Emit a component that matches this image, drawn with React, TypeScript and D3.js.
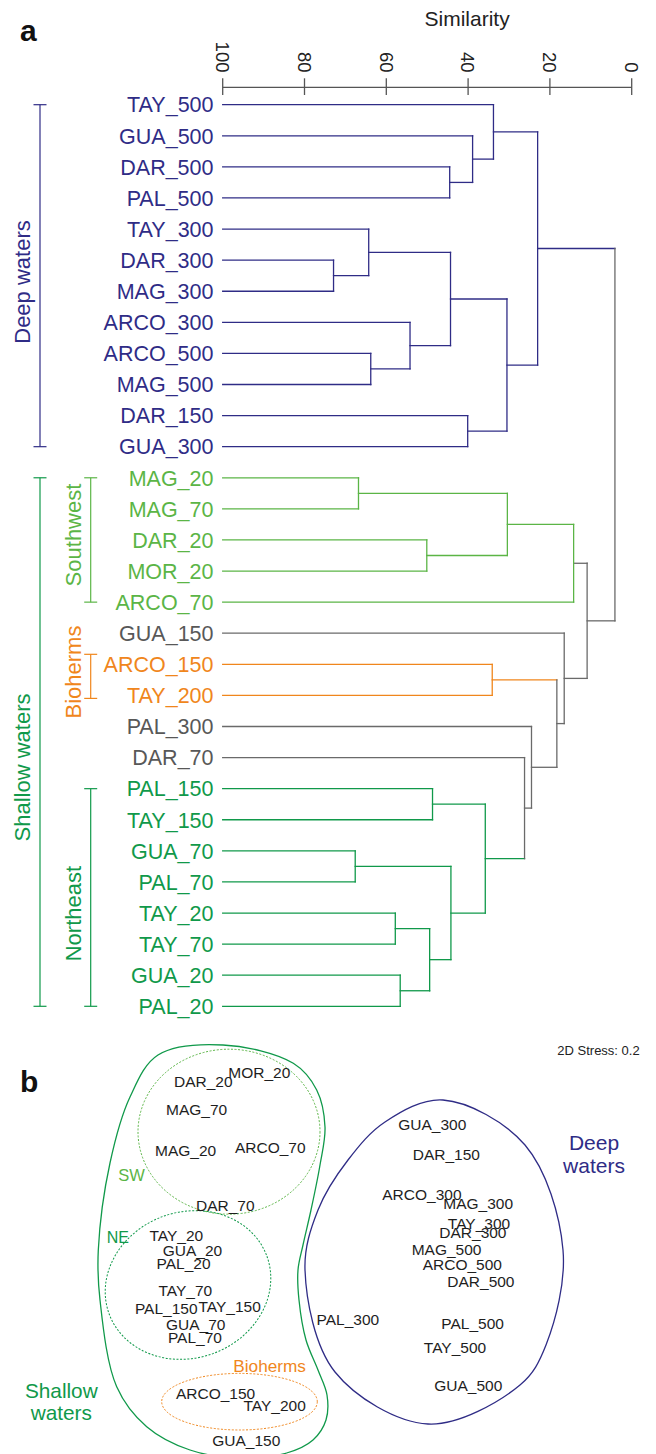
import React from "react";
import * as d3 from "d3";

const FONT = "'Liberation Sans', Arial, Helvetica, sans-serif";

// ---------- Panel a: dendrogram data ----------
const leafNames = [
  "TAY_500", "GUA_500", "DAR_500", "PAL_500", "TAY_300", "DAR_300", "MAG_300",
  "ARCO_300", "ARCO_500", "MAG_500", "DAR_150", "GUA_300",
  "MAG_20", "MAG_70", "DAR_20", "MOR_20", "ARCO_70",
  "GUA_150", "ARCO_150", "TAY_200", "PAL_300", "DAR_70",
  "PAL_150", "TAY_150", "GUA_70", "PAL_70", "TAY_20", "TAY_70", "GUA_20", "PAL_20",
];
const leafGroups = [
  "deep", "deep", "deep", "deep", "deep", "deep", "deep", "deep", "deep", "deep", "deep", "deep",
  "sw", "sw", "sw", "sw", "sw",
  "gray", "bio", "bio", "gray", "gray",
  "ne", "ne", "ne", "ne", "ne", "ne", "ne", "ne",
];
// merges: [id, childA, childB, similarity, group, linkGroup]
const merges: [string, string, string, number, string, string?][] = [
  ["d3", "DAR_500", "PAL_500", 44.5, "deep"],
  ["d2", "GUA_500", "d3", 38.9, "deep"],
  ["d1", "TAY_500", "d2", 33.8, "deep"],
  ["d7", "DAR_300", "MAG_300", 72.9, "deep"],
  ["d6", "TAY_300", "d7", 64.3, "deep"],
  ["d9", "ARCO_500", "MAG_500", 63.8, "deep"],
  ["d8", "ARCO_300", "d9", 54.2, "deep"],
  ["d5", "d6", "d8", 44.3, "deep"],
  ["d10", "DAR_150", "GUA_300", 40.1, "deep"],
  ["d4", "d5", "d10", 30.5, "deep"],
  ["deep", "d1", "d4", 23.0, "deep"],
  ["s2", "MAG_20", "MAG_70", 66.8, "sw"],
  ["s3", "DAR_20", "MOR_20", 50.1, "sw"],
  ["s1", "s2", "s3", 30.4, "sw"],
  ["sw", "s1", "ARCO_70", 14.2, "sw", "gray"],
  ["bio", "ARCO_150", "TAY_200", 34.1, "bio"],
  ["n1", "PAL_150", "TAY_150", 48.7, "ne"],
  ["n3", "GUA_70", "PAL_70", 67.6, "ne"],
  ["n5", "TAY_20", "TAY_70", 57.8, "ne"],
  ["n6", "GUA_20", "PAL_20", 56.6, "ne"],
  ["n4", "n5", "n6", 49.4, "ne"],
  ["n2", "n3", "n4", 44.2, "ne"],
  ["ne", "n1", "n2", 35.8, "ne"],
  ["w", "DAR_70", "ne", 26.2, "gray"],
  ["z", "PAL_300", "w", 24.5, "gray"],
  ["y", "bio", "z", 18.3, "gray"],
  ["x", "GUA_150", "y", 16.5, "gray"],
  ["shallow", "sw", "x", 10.9, "gray"],
  ["root", "deep", "shallow", 4.1, "gray"],
];
const simTicks = [100, 80, 60, 40, 20, 0];

// brackets: [label, firstLeaf, lastLeaf, group, level]
const brackets: [string, string, string, string, number][] = [
  ["Deep waters", "TAY_500", "GUA_300", "deep", 0],
  ["Shallow waters", "MAG_20", "PAL_20", "ne", 0],
  ["Southwest", "MAG_20", "ARCO_70", "sw", 1],
  ["Bioherms", "ARCO_150", "TAY_200", "bio", 1],
  ["Northeast", "PAL_150", "PAL_20", "ne", 1],
];

// ---------- Panel b: NMDS data ----------
const nmdsNames = [
  "DAR_20", "MOR_20", "MAG_70", "MAG_20", "ARCO_70", "DAR_70", "TAY_20", "GUA_20", "PAL_20",
  "TAY_70", "PAL_150", "TAY_150", "GUA_70", "PAL_70", "ARCO_150", "TAY_200", "GUA_150",
  "GUA_300", "DAR_150", "ARCO_300", "MAG_300", "TAY_300", "DAR_300", "MAG_500", "ARCO_500",
  "DAR_500", "PAL_300", "PAL_500", "TAY_500", "GUA_500",
];
const nmds1 = [
  -1.267, -0.707, -1.334, -1.444, -0.597, -1.047, -1.537, -1.376, -1.464,
  -1.447, -1.638, -1.004, -1.343, -1.351, -1.144, -0.554, -0.837,
  1.023, 1.163, 0.919, 1.482, 1.49, 1.429, 1.166, 1.323,
  1.509, 0.179, 1.426, 1.25, 1.383,
];
const nmds2 = [
  1.788, 1.872, 1.505, 1.095, 1.128, 0.542, 0.248, 0.098, -0.038,
  -0.305, -0.485, -0.468, -0.645, -0.772, -1.335, -1.452, -1.805,
  1.355, 1.055, 0.655, 0.562, 0.362, 0.272, 0.105, -0.045,
  -0.212, -0.595, -0.635, -0.872, -1.255,
];
// ellipses: [group, cx, cy, rx, ry, rotation]
const groupEllipses: [string, number, number, number, number, number][] = [
  ["sw", -1.01, 1.283, 0.91, 0.825, 0],
  ["ne", -1.42, -0.25, 0.84, 0.73, -20],
  ["bio", -0.905, -1.417, 0.778, 0.283, 0],
];
const deepHull: [number, number][] = [
  [1.13, 1.6], [1.95, 1.15], [2.33, 0.1], [2.16, -0.85], [1.9, -1.25], [0.98, -1.64],
  [0.05, -1.12], [-0.25, -0.1], [-0.12, 0.5], [0.18, 1.0], [0.55, 1.38],
];
const shallowHull: [number, number][] = [
  [-1.07, 2.15], [-0.367, 1.967], [-0.133, 1.7], [-0.05, 1.33], [-0.1, 0.95],
  [-0.19, 0.5], [-0.27, 0.15], [-0.32, -0.1], [-0.31, -0.4], [-0.24, -0.8],
  [-0.12, -1.1], [-0.03, -1.35], [-0.04, -1.6], [-0.17, -1.8], [-0.433, -1.93], [-0.9, -1.98],
  [-1.4, -1.9], [-1.833, -1.667], [-2.133, -1.267], [-2.3, -0.4], [-2.317, 0.1],
  [-2.2, 0.97], [-2.0, 1.63], [-1.72, 2.05],
];

const colors: Record<string, string> = {
  deep: "#2f2c86",
  sw: "#5bb546",
  ne: "#10994a",
  bio: "#f0861c",
  gray: "#6a6a6a",
};
const textColors: Record<string, string> = { ...colors, gray: "#585858" };

export default function App() {
  const x = d3.scaleLinear().domain([100, 0]).range([222.7, 631.7]);
  const y = d3.scaleLinear().domain([0, leafNames.length - 1]).range([104.7, 1006.3]);

  type Node = { id: string; sim: number; y: number; group: string; linkGroup: string; kids: string[] };
  const nodes = new Map<string, Node>();
  leafNames.forEach((n, i) =>
    nodes.set(n, { id: n, sim: 100, y: y(i), group: leafGroups[i], linkGroup: leafGroups[i], kids: [] })
  );
  const parentOf = new Map<string, string>();
  merges.forEach(([id, a, b, sim, g, lg]) => {
    const ya = nodes.get(a)!.y;
    const yb = nodes.get(b)!.y;
    nodes.set(id, { id, sim, y: (ya + yb) / 2, group: g, linkGroup: lg ?? g, kids: [a, b] });
    parentOf.set(a, id);
    parentOf.set(b, id);
  });

  const segs: { x1: number; y1: number; x2: number; y2: number; c: string }[] = [];
  nodes.forEach((n) => {
    const p = parentOf.get(n.id);
    if (p) {
      const pn = nodes.get(p)!;
      segs.push({ x1: x(n.sim), y1: n.y, x2: x(pn.sim), y2: n.y, c: colors[n.linkGroup] });
    }
    if (n.kids.length) {
      const ys = n.kids.map((k) => nodes.get(k)!.y);
      segs.push({ x1: x(n.sim), y1: d3.min(ys)!, x2: x(n.sim), y2: d3.max(ys)!, c: colors[n.group] });
    }
  });

  const bx = d3.scaleLinear().domain([0, 1]).range([330, 430]);
  const by = d3.scaleLinear().domain([0, 1]).range([1260, 1160]);
  const hullLine = d3
    .line<[number, number]>()
    .x((d) => bx(d[0]))
    .y((d) => by(d[1]))
    .curve(d3.curveCatmullRomClosed.alpha(0.5));

  const axisY = 87.3;
  const centers: Record<string, number> = {
    "Deep waters": 282,
    "Shallow waters": 767.5,
    Southwest: 535,
    Bioherms: 672,
    Northeast: 913.6,
  };

  return (
    <svg
      width={656}
      height={1454}
      style={{ position: "absolute", left: 0, top: 0, background: "#fff" }}
      fontFamily={FONT}
    >
      <text x={20} y={40.5} fontSize={30} fontWeight="bold" fill="#111">a</text>
      <text x={20} y={1091.5} fontSize={30} fontWeight="bold" fill="#111">b</text>

      <text x={x(40) - 1} y={26} fontSize={21} textAnchor="middle" fill="#222">Similarity</text>
      <line x1={x(100)} x2={x(0)} y1={axisY} y2={axisY} stroke="#555" strokeWidth={1.3} />
      {simTicks.map((t) => (
        <g key={t}>
          <line x1={x(t)} x2={x(t)} y1={78.3} y2={95} stroke="#555" strokeWidth={1.3} />
          <text
            x={x(t)}
            y={72.5}
            fontSize={18.5}
            textAnchor="end"
            dy="0.36em"
            fill="#222"
            transform={`rotate(90, ${x(t)}, 72.5)`}
          >
            {t}
          </text>
        </g>
      ))}

      {segs.map((s, i) => (
        <line key={i} x1={s.x1} y1={s.y1} x2={s.x2} y2={s.y2} stroke={s.c} strokeWidth={1.3} strokeLinecap="square" />
      ))}
      {leafNames.map((n, i) => (
        <text key={n} x={213.5} y={y(i)} dy="0.36em" fontSize={21.5} textAnchor="end" fill={textColors[leafGroups[i]]}>
          {n}
        </text>
      ))}

      {brackets.map(([label, a, b, g, level]) => {
        let y1 = y(leafNames.indexOf(a));
        let y2 = y(leafNames.indexOf(b));
        if (label === "Bioherms") {
          y1 -= 10;
          y2 += 3;
        }
        const bxPos = level === 0 ? 40 : 90.7;
        const textX = level === 0 ? 29.5 : 81;
        const cy = centers[label];
        return (
          <g key={label}>
            <line x1={bxPos} x2={bxPos} y1={y1} y2={y2} stroke={colors[g]} strokeWidth={1.2} />
            <line x1={bxPos - 6.5} x2={bxPos + 6.5} y1={y1} y2={y1} stroke={colors[g]} strokeWidth={1.2} />
            <line x1={bxPos - 6.5} x2={bxPos + 6.5} y1={y2} y2={y2} stroke={colors[g]} strokeWidth={1.2} />
            <text
              x={textX}
              y={cy}
              fontSize={22}
              textAnchor="middle"
              fill={colors[g]}
              transform={`rotate(-90, ${textX}, ${cy})`}
            >
              {label}
            </text>
          </g>
        );
      })}

      <text x={557.3} y={1055} fontSize={13} fill="#222">2D Stress: 0.2</text>
      <path d={hullLine(shallowHull) ?? ""} fill="none" stroke={colors.ne} strokeWidth={1.3} />
      <path d={hullLine(deepHull) ?? ""} fill="none" stroke={colors.deep} strokeWidth={1.3} />
      {groupEllipses.map(([g, cx, cy, rx, ry, rot]) => (
        <ellipse
          key={g}
          cx={bx(cx)}
          cy={by(cy)}
          rx={bx(rx) - bx(0)}
          ry={by(0) - by(ry)}
          transform={`rotate(${rot}, ${bx(cx)}, ${by(cy)})`}
          fill="none"
          stroke={colors[g]}
          strokeWidth={1}
          strokeDasharray="2,1.6"
        />
      ))}
      {nmdsNames.map((n, i) => (
        <text key={n} x={bx(nmds1[i])} y={by(nmds2[i])} dy="0.36em" fontSize={15.5} textAnchor="middle" fill="#1e1e1e">
          {n}
        </text>
      ))}
      <text x={118.3} y={1180.7} fontSize={16.5} fill={colors.sw}>SW</text>
      <text x={106.7} y={1242.7} fontSize={16} fill={colors.ne}>NE</text>
      <text x={233.3} y={1371.7} fontSize={17.2} fill={colors.bio}>Bioherms</text>
      <text x={61.3} y={1398.3} fontSize={20.8} textAnchor="middle" fill={colors.ne}>Shallow</text>
      <text x={61.3} y={1420} fontSize={20.8} textAnchor="middle" fill={colors.ne}>waters</text>
      <text x={594} y={1150} fontSize={21} textAnchor="middle" fill={colors.deep}>Deep</text>
      <text x={594} y={1172.7} fontSize={21} textAnchor="middle" fill={colors.deep}>waters</text>
    </svg>
  );
}
